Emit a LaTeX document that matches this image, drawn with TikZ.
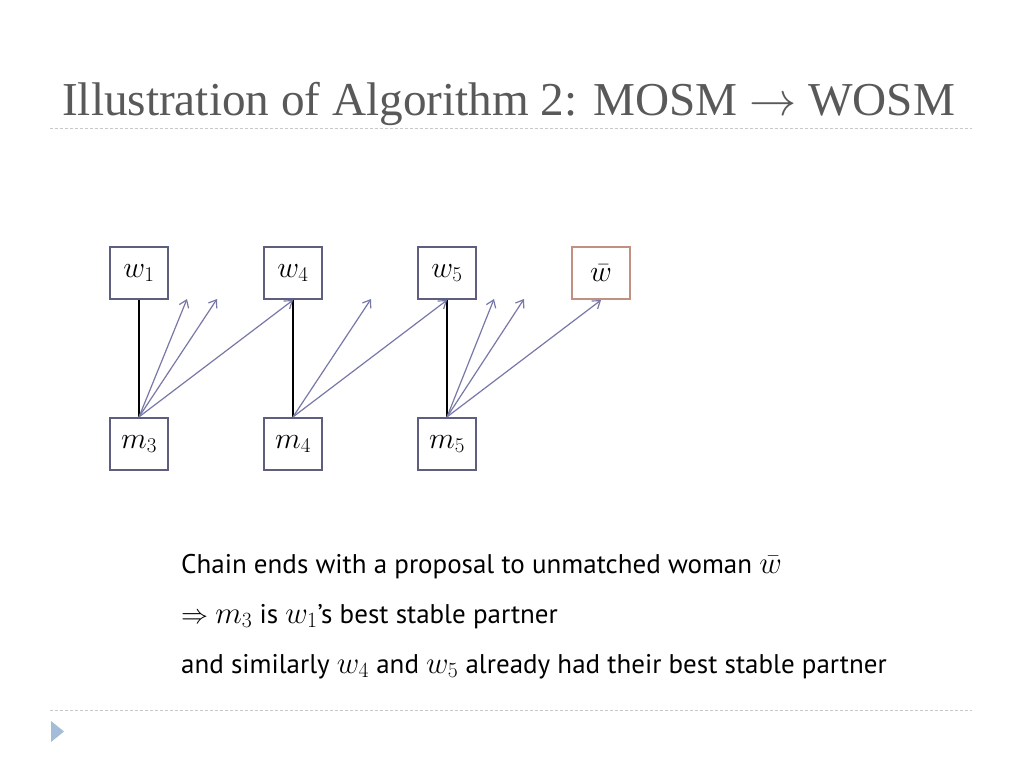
\RequirePackage{fix-cm}
\documentclass[tikz,border=0pt]{standalone}
\usepackage{fontspec}
\setmainfont{Liberation Serif}
\setsansfont{PT Sans}
\usepackage{tikz}
\usetikzlibrary{arrows.meta}

\definecolor{boxline}{HTML}{5E5E7E}
\definecolor{arrowline}{HTML}{7878A8}
\definecolor{freeline}{HTML}{C09080}
\definecolor{titlegray}{HTML}{595959}
\definecolor{rulegray}{HTML}{C8C8C8}
\definecolor{bullet}{HTML}{A4BCD8}

\newcommand{\mvar}[1]{{\fontsize{31}{36}\selectfont$#1$}}

\begin{document}
\begin{tikzpicture}[x=1pt,y=-1pt,auto,node distance=154pt,
  main node/.style={draw=boxline,line width=2.2pt,minimum width=58pt,minimum height=52pt,inner sep=0pt,font=\fontsize{30}{34}\selectfont},
  prop/.style={draw=arrowline,line width=1.2pt,-{Straight Barb[length=7pt,width=10pt]}},
  match/.style={draw=black,line width=2pt},
  body/.style={anchor=base west,inner sep=0pt,font=\sffamily\fontsize{27}{32}\selectfont}]

\useasboundingbox[fill=white] (0,0) rectangle (1024,768);

% title and rules
\node[anchor=base west,inner sep=0pt,text=titlegray,font=\fontsize{47.2}{52}\selectfont] (title) at (62,115) {Illustration of Algorithm 2: MOSM $\rightarrow$ WOSM};
\draw[rulegray,line width=1pt,dash pattern=on 3pt off 2pt] (50,128) -- (972,128);
\draw[rulegray,line width=1pt,dash pattern=on 3pt off 2pt] (50,710) -- (972,710);
\fill[bullet] (51,721) -- (64,731.5) -- (51,742) -- cycle;

% women
\node[main node] (w1) at (139,273) {$w_1$};
\node[main node] (w4) [right of = w1] {$w_4$};
\node[main node] (w5) [right of = w4] {$w_5$};
\node[main node,draw=freeline] (wb) [right of = w5] {$\bar{w}$};

% men
\node[main node] (m3) at (139,444) {$m_3$};
\node[main node] (m4) [right of = m3] {$m_4$};
\node[main node] (m5) [right of = m4] {$m_5$};

% free ends of rejected proposals
\coordinate (p1) at (187,299);
\coordinate (p2) at (217,299);
\coordinate (p3) at (371,299);
\coordinate (p4) at (494,299);
\coordinate (p5) at (524,299);

% matching
\path (w1) edge[match] (m3);
\path (w4) edge[match] (m4);
\path (w5) edge[match] (m5);

% proposals
\path (m3.north) edge[prop] (p1);
\path (m3.north) edge[prop] (p2);
\path (m3.north) edge[prop] (w4.south);
\path (m4.north) edge[prop] (p3);
\path (m4.north) edge[prop] (w5.south);
\path (m5.north) edge[prop] (p4);
\path (m5.north) edge[prop] (p5);
\path (m5.north) edge[prop] (wb.south);

% text
\node[body] (l1) at (181,573) {Chain ends with a proposal to unmatched woman \mvar{\bar{w}}};
\node[body] (l2) at (181,623) {$\Rightarrow$ \mvar{m_3} is \mvar{w_1}’s best stable partner};
\node[body] (l3) at (181,673) {and similarly \mvar{w_4} and \mvar{w_5} already had their best stable partner};
\end{tikzpicture}
\end{document}
